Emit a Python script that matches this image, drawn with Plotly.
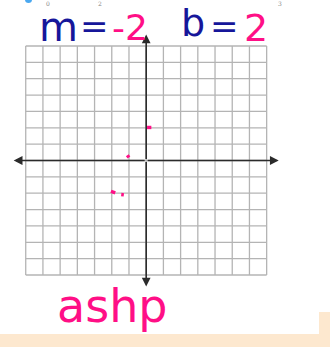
import plotly.graph_objects as go

# Coordinate grid limits and tick positions
grid_ticks = list(range(-7, 8))
axis_reach = 7.7

# Plotted pink marks (short dashes) as (x0, y0, x1, y1)
mark_x0 = [0.05, -1.10, -2.05, -1.45]
mark_y0 = [2.02, 0.32, -1.88, -2.08]
mark_x1 = [0.30, -1.00, -1.80, -1.30]
mark_y1 = [2.02, 0.18, -1.98, -2.10]

# Handwritten headline tokens
head_tokens = ["m", "=", "-2", "b", "=", "2"]
head_colors = ["#16169a", "#16169a", "#ff0f86", "#16169a", "#16169a", "#ff0f86"]
bottom_word = "ashp"

PINK = "#ff0f86"

fig = go.Figure()

# grid lines
gx, gy = [], []
for t in grid_ticks:
    gx += [t, t, None]
    gy += [-7, 7, None]
    gx += [-7, 7, None]
    gy += [t, t, None]
fig.add_trace(go.Scatter(x=gx, y=gy, mode="lines",
                         line=dict(color="#b4b4b4", width=1.3),
                         hoverinfo="skip", showlegend=False))

# pink marks
for a, b, c, d in zip(mark_x0, mark_y0, mark_x1, mark_y1):
    fig.add_trace(go.Scatter(x=[a, c], y=[b, d], mode="lines",
                             line=dict(color=PINK, width=3.4),
                             hoverinfo="skip", showlegend=False))

annotations = []
# axes with arrowheads
for hx, hy in [(axis_reach, 0), (-axis_reach, 0), (0, axis_reach), (0, -axis_reach)]:
    annotations.append(dict(x=hx, y=hy, ax=0, ay=0, xref="x", yref="y",
                            axref="x", ayref="y", showarrow=True,
                            arrowhead=2, arrowsize=1.1, arrowwidth=1.6,
                            arrowcolor="#2b2b2b", text=""))

# headline: m = -2   b = 2
head_x = [58, 94, 130, 193, 224, 256]
head_sizes = [40, 34, 36, 38, 34, 38]
head_y = [27, 26, 28, 23, 26, 28]
for tok, col, px, fs, py in zip(head_tokens, head_colors, head_x, head_sizes, head_y):
    annotations.append(dict(x=px / 330, y=1 - py / 347, xref="paper", yref="paper",
                            text=tok, showarrow=False, xanchor="center", yanchor="middle",
                            font=dict(family="DejaVu Sans", size=fs, color=col)))

# fragments of the row above
for px, tx in [(48, "0"), (100, "2"), (280, "3")]:
    annotations.append(dict(x=px / 330, y=1 - 3 / 347, xref="paper", yref="paper",
                            text=tx, showarrow=False, xanchor="center", yanchor="middle",
                            font=dict(family="DejaVu Serif", size=6, color="#888888")))

# bottom scribble word
annotations.append(dict(x=112 / 330, y=1 - 306 / 347, xref="paper", yref="paper",
                        text=bottom_word, showarrow=False, xanchor="center", yanchor="middle",
                        font=dict(family="DejaVu Sans", size=46, color=PINK)))

shapes = [
    dict(type="rect", xref="paper", yref="paper", x0=0, x1=1, y0=0, y1=13 / 347,
         fillcolor="#fde8cf", line=dict(width=0), layer="below"),
    dict(type="rect", xref="paper", yref="paper", x0=319 / 330, x1=1, y0=0, y1=35 / 347,
         fillcolor="#fde8cf", line=dict(width=0), layer="below"),
    dict(type="circle", xref="paper", yref="paper", x0=25 / 330, x1=32 / 330,
         y0=1 - 3 / 347, y1=1 + 4 / 347, fillcolor="#4aa8f0", line=dict(width=0)),
]

sx = 17.2
sy = 16.36
fig.update_layout(
    width=330, height=347,
    margin=dict(l=0, r=0, t=0, b=0),
    paper_bgcolor="white", plot_bgcolor="white",
    xaxis=dict(range=[-7 - 25.7 / sx, 7 + (330 - 266.7) / sx], visible=False, fixedrange=True),
    yaxis=dict(range=[-7 - 72 / sy, 7 + 46 / sy], visible=False, fixedrange=True),
    annotations=annotations,
    shapes=shapes,
    showlegend=False,
)

fig.write_html("out.html")
